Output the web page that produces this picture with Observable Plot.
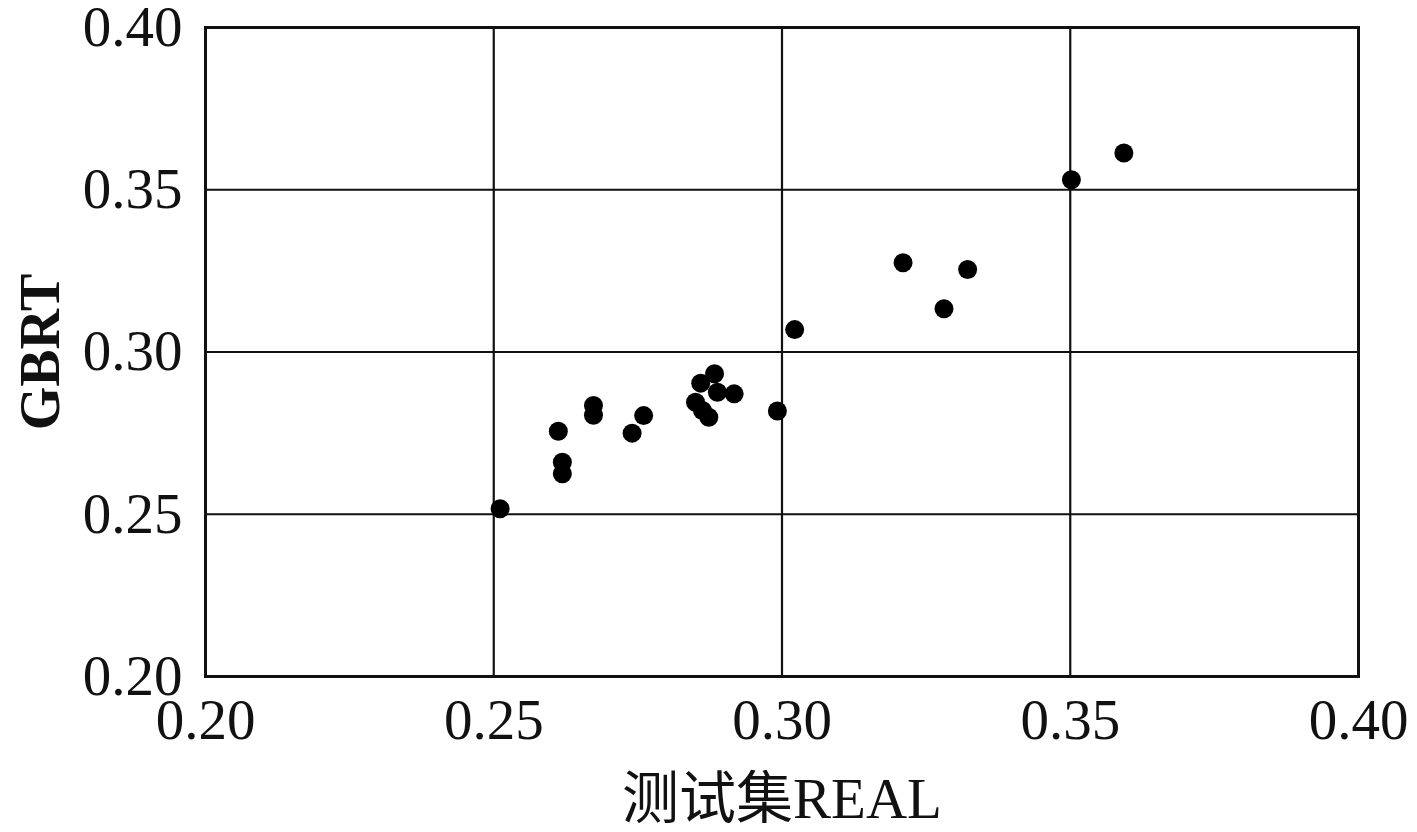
<!DOCTYPE html>
<html>
<head>
<meta charset="utf-8">
<script src="https://cdn.jsdelivr.net/npm/d3@7"></script>
<script src="https://cdn.jsdelivr.net/npm/@observablehq/plot@0.6"></script>
<style>
  html, body { margin: 0; padding: 0; background: #fff; }
  #chart svg { display: block; overflow: visible; }
</style>
</head>
<body>
<div id="chart"></div>
<script>
// Test-set REAL values (x) and GBRT predictions (y)
const realValues = [0.2511, 0.2612, 0.2619, 0.2619, 0.2673, 0.2673, 0.2740, 0.2760,
  0.2850, 0.2859, 0.2862, 0.2873, 0.2883, 0.2888, 0.2917, 0.2992,
  0.3022, 0.3210, 0.3281, 0.3322, 0.3502, 0.3593];
const gbrtValues = [0.2517, 0.2756, 0.2660, 0.2625, 0.2835, 0.2805, 0.2750, 0.2804,
  0.2845, 0.2904, 0.2820, 0.2799, 0.2933, 0.2876, 0.2871, 0.2818,
  0.3069, 0.3275, 0.3133, 0.3254, 0.3531, 0.3613];
const tickValues = [0.20, 0.25, 0.30, 0.35, 0.40];
const gridValues = [0.25, 0.30, 0.35];
const xTitle = "测试集REAL";
const yTitle = "GBRT";

const data = realValues.map((x, i) => ({x, y: gbrtValues[i]}));
const font = "'Liberation Serif', 'Times New Roman', 'Noto Sans CJK SC', serif";

const chart = Plot.plot({
  width: 1417,
  height: 832,
  marginLeft: 205,
  marginRight: 59,
  marginTop: 27,
  marginBottom: 156,
  style: {fontFamily: font, fontSize: "57px", color: "#111", background: "#fff"},
  x: {domain: [0.20, 0.40]},
  y: {domain: [0.20, 0.40]},
  marks: [
    Plot.ruleX(gridValues, {stroke: "#111", strokeWidth: 2.2}),
    Plot.ruleY(gridValues, {stroke: "#111", strokeWidth: 2.2}),
    Plot.frame({stroke: "#111", strokeWidth: 3}),
    Plot.axisX({ticks: tickValues, tickSize: 0, tickPadding: 22, tickFormat: d3.format(".2f"), label: null, fontSize: 57}),
    Plot.axisY({ticks: tickValues, tickSize: 0, tickPadding: 23, tickFormat: d3.format(".2f"), label: null, fontSize: 57}),
    Plot.dot(data, {x: "x", y: "y", r: 9.5, fill: "#000", stroke: "none"}),
    Plot.text([xTitle], {frameAnchor: "bottom", dy: 141, lineAnchor: "bottom", textAnchor: "middle", text: d => d, fontSize: 57, fill: "#111"}),
    Plot.text([yTitle], {frameAnchor: "left", dx: -164, rotate: -90, textAnchor: "middle", lineAnchor: "middle", text: d => d, fontSize: 56, fontWeight: "bold", fill: "#111"})
  ]
});
document.getElementById("chart").appendChild(chart);
</script>
</body>
</html>
